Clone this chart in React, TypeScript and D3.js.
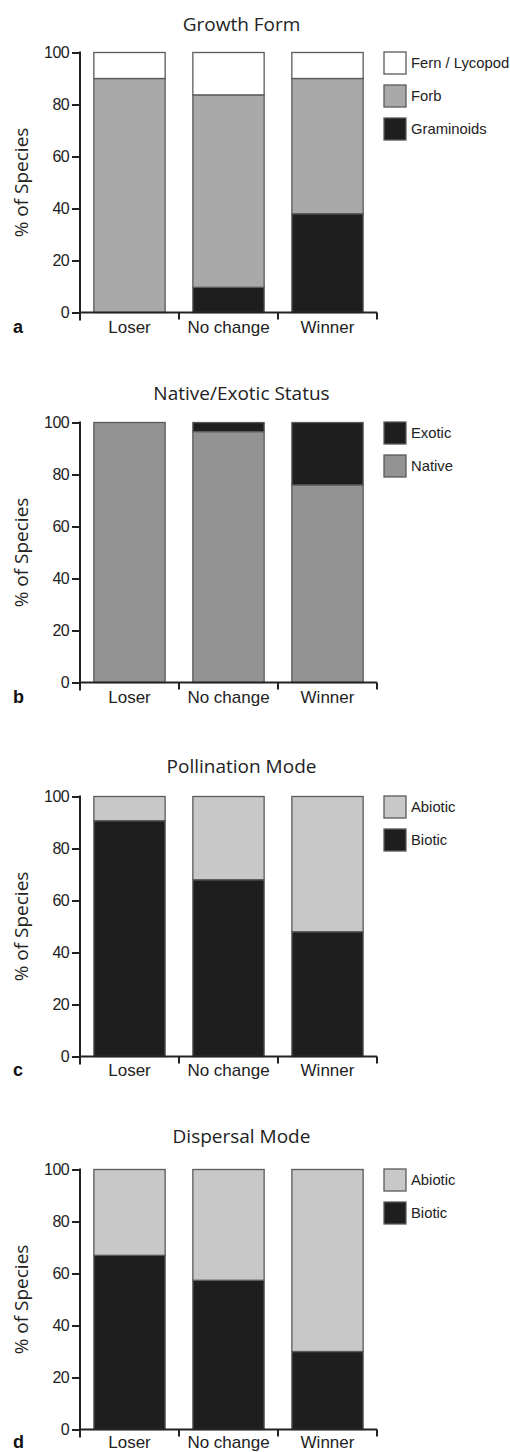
import React, { useEffect, useRef } from "react";
import * as d3 from "d3";

const categories = ["Loser", "No change", "Winner"];
const yTicks = [0, 20, 40, 60, 80, 100];

// a: growth form (stack order bottom -> top)
const growthKeys = ["Graminoids", "Forb", "Fern / Lycopod"];
const graminoids = [0, 9.7, 38];
const forb = [90, 74, 52];
const fern = [10, 16.3, 10];

// b: native / exotic
const statusKeys = ["Native", "Exotic"];
const native = [100, 96.5, 76];
const exotic = [0, 3.5, 24];

// c: pollination
const modeKeys = ["Biotic", "Abiotic"];
const pollBiotic = [90.7, 68, 48];
const pollAbiotic = [9.3, 32, 52];

// d: dispersal
const dispBiotic = [67, 57.4, 30];
const dispAbiotic = [33, 42.6, 70];

interface Panel {
  letter: string;
  title: string;
  keys: string[];
  series: number[][];
  colors: string[];
  top: number;
  titleY: number;
  labelDy: number;
}

const panels: Panel[] = [
  {
    letter: "a",
    title: "Growth Form",
    keys: growthKeys,
    series: [graminoids, forb, fern],
    colors: ["#1e1e1e", "#a9a9a9", "#ffffff"],
    top: 52.5,
    titleY: 31,
    labelDy: 20.5,
  },
  {
    letter: "b",
    title: "Native/Exotic Status",
    keys: statusKeys,
    series: [native, exotic],
    colors: ["#939393", "#1e1e1e"],
    top: 422.5,
    titleY: 400,
    labelDy: 20.5,
  },
  {
    letter: "c",
    title: "Pollination Mode",
    keys: modeKeys,
    series: [pollBiotic, pollAbiotic],
    colors: ["#1e1e1e", "#c8c8c8"],
    top: 796.5,
    titleY: 773,
    labelDy: 19.5,
  },
  {
    letter: "d",
    title: "Dispersal Mode",
    keys: modeKeys,
    series: [dispBiotic, dispAbiotic],
    colors: ["#1e1e1e", "#c8c8c8"],
    top: 1169.5,
    titleY: 1143,
    labelDy: 18,
  },
];

const W = 510;
const H = 1452;
const axisX = 80;
const axisRight = 377;
const plotH = 260;
const sansTick = "'Liberation Sans', Arial, sans-serif";
const sansTitle = "'Open Sans', 'Noto Sans', sans-serif";

const App: React.FC = () => {
  const svgRef = useRef<SVGSVGElement | null>(null);

  useEffect(() => {
    if (!svgRef.current) return;
    const svg = d3.select(svgRef.current);
    svg.selectAll("*").remove();

    const x = d3
      .scaleBand<string>()
      .domain(categories)
      .range([axisX, axisRight])
      .paddingInner(0.28)
      .paddingOuter(0.14);

    panels.forEach((p) => {
      const y = d3.scaleLinear().domain([0, 100]).range([p.top + plotH, p.top]);
      const g = svg.append("g");

      const rows = categories.map((c, i) => {
        const r: Record<string, any> = { cat: c };
        p.keys.forEach((k, j) => (r[k] = p.series[j][i]));
        return r;
      });
      const stacked = d3.stack<Record<string, any>>().keys(p.keys)(rows);

      // bars
      stacked.forEach((layer, li) => {
        g.append("g")
          .selectAll("rect")
          .data(layer)
          .enter()
          .filter((d) => d[1] - d[0] > 0)
          .append("rect")
          .attr("x", (d) => x(d.data.cat as string)!)
          .attr("y", (d) => y(d[1]))
          .attr("width", x.bandwidth())
          .attr("height", (d) => y(d[0]) - y(d[1]))
          .attr("fill", p.colors[li])
          .attr("stroke", "#5a5a5a")
          .attr("stroke-width", 1.3);
      });

      // y axis
      const yAxis = g
        .append("g")
        .attr("transform", `translate(${axisX},0)`)
        .call(d3.axisLeft(y).tickValues(yTicks).tickSize(8).tickPadding(3));
      yAxis.select(".domain").remove();
      yAxis.selectAll("line").attr("stroke", "#222").attr("stroke-width", 2);
      yAxis
        .selectAll("text")
        .attr("fill", "#222")
        .style("font-family", sansTick)
        .style("font-size", "16px")
        .style("letter-spacing", "-0.6px");
      g.append("line")
        .attr("x1", axisX)
        .attr("x2", axisX)
        .attr("y1", y(100) - 1)
        .attr("y2", y(0) + 8)
        .attr("stroke", "#222")
        .attr("stroke-width", 2);

      // x axis
      const xAxis = g
        .append("g")
        .attr("transform", `translate(0,${y(0)})`)
        .call(d3.axisBottom(x).tickSize(0).tickPadding(0));
      xAxis.select(".domain").remove();
      xAxis
        .selectAll("text")
        .attr("dy", 0)
        .attr("y", p.labelDy)
        .attr("fill", "#222")
        .style("font-family", sansTick)
        .style("font-size", "17px");
      g.append("line")
        .attr("x1", axisX)
        .attr("x2", axisRight)
        .attr("y1", y(0))
        .attr("y2", y(0))
        .attr("stroke", "#222")
        .attr("stroke-width", 2);
      const step = x.step();
      g.selectAll("line.xtick")
        .data(d3.range(categories.length + 1))
        .enter()
        .append("line")
        .attr("class", "xtick")
        .attr("x1", (i) => axisX + i * step)
        .attr("x2", (i) => axisX + i * step)
        .attr("y1", y(0))
        .attr("y2", y(0) + 7)
        .attr("stroke", "#222")
        .attr("stroke-width", 2);

      // title
      g.append("text")
        .attr("x", 241.5)
        .attr("y", p.titleY)
        .attr("text-anchor", "middle")
        .attr("fill", "#222")
        .style("font-family", sansTitle)
        .style("font-size", "19px")
        .text(p.title);

      // y label
      g.append("text")
        .attr("transform", `translate(28,${y(50)}) rotate(-90)`)
        .attr("text-anchor", "middle")
        .attr("fill", "#222")
        .style("font-family", sansTitle)
        .style("font-size", "19px")
        .text("% of Species");

      // panel letter
      g.append("text")
        .attr("x", 13)
        .attr("y", y(0) + p.labelDy)
        .attr("fill", "#111")
        .style("font-family", sansTick)
        .style("font-weight", "bold")
        .style("font-size", "18px")
        .text(p.letter);

      // legend (top to bottom = reverse stack order)
      const legendItems = p.keys.map((k, i) => ({ k, c: p.colors[i] })).reverse();
      const lg = g.append("g").attr("transform", `translate(384,${p.top - 0.5})`);
      const item = lg
        .selectAll("g")
        .data(legendItems)
        .enter()
        .append("g")
        .attr("transform", (_, i) => `translate(0,${i * 33})`);
      item
        .append("rect")
        .attr("width", 22)
        .attr("height", 22)
        .attr("fill", (d) => d.c)
        .attr("stroke", "#5a5a5a")
        .attr("stroke-width", 1.3);
      item
        .append("text")
        .attr("x", 27)
        .attr("y", 16)
        .attr("fill", "#222")
        .style("font-family", sansTick)
        .style("font-size", "14.8px")
        .text((d) => d.k);
    });
  }, []);

  return (
    <svg
      ref={svgRef}
      width={W}
      height={H}
      style={{ position: "absolute", left: 0, top: 0, background: "#fff" }}
    ></svg>
  );
};

export default App;
